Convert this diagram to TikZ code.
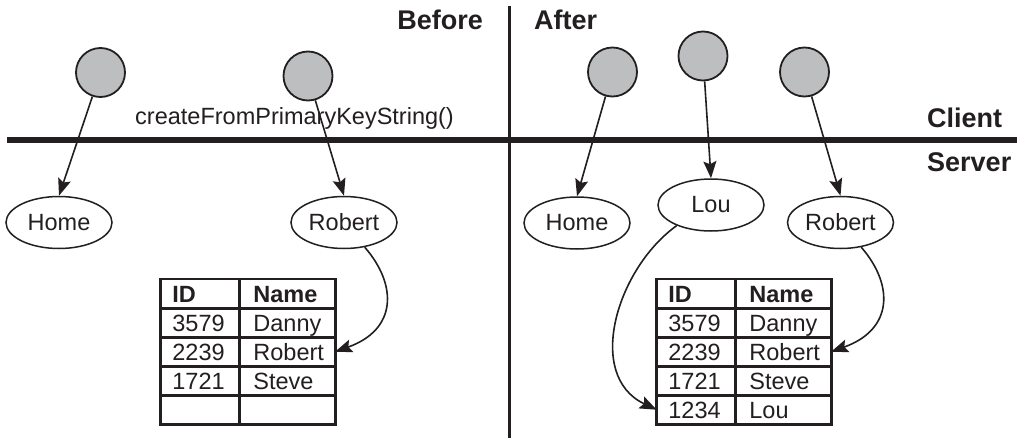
\documentclass[tikz,border=0pt]{standalone}
\usepackage{fontspec}
\setmainfont{Liberation Sans}
\usetikzlibrary{arrows.meta,shapes.geometric}
\hfuzz=10pt
\definecolor{ink}{HTML}{231F20}
\definecolor{ballgray}{HTML}{BCBEC0}

\begin{document}
\begin{tikzpicture}[x=1pt,y=-1pt,
  every node/.style={text=ink},
  regular/.style={font=\fontsize{23.5}{28}\selectfont},
  heading/.style={font=\fontsize{27}{32}\selectfont\bfseries, inner sep=0},
  ball/.style={circle, draw=ink, line width=1.8pt, fill=ballgray, minimum size=49pt, inner sep=0},
  entity/.style={ellipse, draw=ink, line width=1.5pt, minimum width=106pt, minimum height=52pt, inner sep=0, regular},
  ref/.style={draw=ink, line width=1.6pt, -{Stealth[length=17pt,width=13pt,inset=3pt]}},
  divider/.style={draw=ink, line cap=butt},
  cellbase/.style={anchor=north west, minimum height=29pt, inner ysep=0pt, text height=17pt, text depth=0pt, align=left, regular},
  colA/.style={cellbase, inner xsep=11.5pt, text width=55pt},
  colB/.style={cellbase, inner xsep=14.5pt, text width=67pt},
  hdr/.style={font=\fontsize{23.5}{28}\selectfont\bfseries},
  grid/.style={draw=ink, line width=2.8pt}
]
\fill[white] (0,0) rectangle (1017,442);
\useasboundingbox (0,0) rectangle (1017,442);

% client / server and before / after dividers
\draw[divider, line width=5.3pt] (7,140) -- (1017,140);
\draw[divider, line width=3.5pt] (509.5,6) -- (509.5,438);

% headings
\node[heading, anchor=base east] (before) at (483,29.3) {Before};
\node[heading, anchor=base west] (after) at (534,29.3) {After};
\node[heading, anchor=base west] (client) at (927,127.3) {Client};
\node[heading, anchor=base west] (server) at (927,171.5) {Server};
\node[regular, anchor=base west, inner sep=0pt] (call) at (135,124) {createFromPrimaryKeyString()};

% client-side references
\node[ball] (k1) at (100.5,72.5) {};
\node[ball] (k2) at (308,76) {};
\node[ball] (k3) at (612.5,72) {};
\node[ball] (k4) at (703,56) {};
\node[ball] (k5) at (804.5,72) {};

% server-side objects
\node[entity] (home1) at (59,222.5) {Home};
\node[entity] (rob1) at (344,222.5) {Robert};
\node[entity] (home2) at (577,223) {Home};
\node[entity] (lou) at (711,205) {Lou};
\node[entity] (rob2) at (840.5,222.5) {Robert};

% table before
\node[colA,hdr] (b11) at (160.7,279) {ID};
\node[colB,hdr] (b12) at (238.7,279) {Name};
\node[colA] (b21) at (160.7,308) {3579};
\node[colB] (b22) at (238.7,308) {Danny};
\node[colA] (b31) at (160.7,337) {2239};
\node[colB] (b32) at (238.7,337) {Robert};
\node[colA] (b41) at (160.7,366) {1721};
\node[colB] (b42) at (238.7,366) {Steve};
\node[colA] (b51) at (160.7,395) {};
\node[colB] (b52) at (238.7,395) {};
\draw[grid] (b11.north west) rectangle (b52.south east);
\draw[grid] (b11.north east) -- (b51.south east);
\foreach \r in {1,...,4} \draw[grid] (b\r1.south west) -- (b\r2.south east);

% table after
\node[colA,hdr] (a11) at (656.7,279) {ID};
\node[colB,hdr] (a12) at (734.7,279) {Name};
\node[colA] (a21) at (656.7,308) {3579};
\node[colB] (a22) at (734.7,308) {Danny};
\node[colA] (a31) at (656.7,337) {2239};
\node[colB] (a32) at (734.7,337) {Robert};
\node[colA] (a41) at (656.7,366) {1721};
\node[colB] (a42) at (734.7,366) {Steve};
\node[colA] (a51) at (656.7,395) {1234};
\node[colB] (a52) at (734.7,395) {Lou};
\draw[grid] (a11.north west) rectangle (a52.south east);
\draw[grid] (a11.north east) -- (a51.south east);
\foreach \r in {1,...,4} \draw[grid] (a\r1.south west) -- (a\r2.south east);

% references from client to server
\draw[ref] (k1) -- (home1.north);
\draw[ref] (k2) -- (rob1.north);
\draw[ref] (k3) -- (home2.north);
\draw[ref] (k4) -- (lou.north);
\draw[ref] (k5) -- (rob2.north);

% objects to their rows
\draw[ref] (rob1.-50) .. controls +(33,38) and +(62,-22) .. (b32.east);
\draw[ref] (rob2.-50) .. controls +(33,38) and +(62,-22) .. (a32.east);
\draw[ref] (lou.-149) .. controls +(-60,43) and +(-72,-34) .. (a51.west);
\end{tikzpicture}
\end{document}
